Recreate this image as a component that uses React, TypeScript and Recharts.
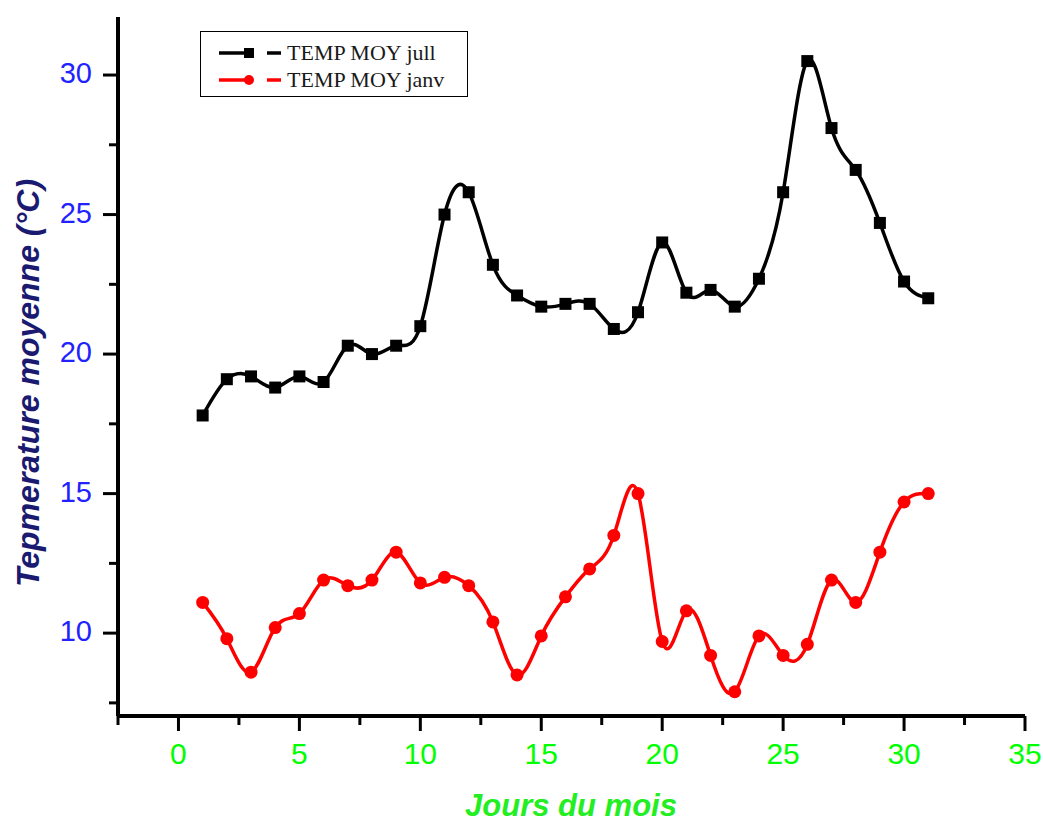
import { LineChart, Line, XAxis, YAxis } from 'recharts'

// day of month
const days = [1, 2, 3, 4, 5, 6, 7, 8, 9, 10, 11, 12, 13, 14, 15, 16, 17, 18, 19, 20, 21, 22, 23, 24, 25, 26, 27, 28, 29, 30, 31]

// TEMP MOY juil
const julyTemp = [17.8, 19.1, 19.2, 18.8, 19.2, 19.0, 20.3, 20.0, 20.3, 21.0, 25.0, 25.8, 23.2, 22.1, 21.7, 21.8, 21.8, 20.9, 21.5, 24.0, 22.2, 22.3, 21.7, 22.7, 25.8, 30.5, 28.1, 26.6, 24.7, 22.6, 22.0]

// TEMP MOY janv
const janTemp = [11.1, 9.8, 8.6, 10.2, 10.7, 11.9, 11.7, 11.9, 12.9, 11.8, 12.0, 11.7, 10.4, 8.5, 9.9, 11.3, 12.3, 13.5, 15.0, 9.7, 10.8, 9.2, 7.9, 9.9, 9.2, 9.6, 11.9, 11.1, 12.9, 14.7, 15.0]

const xTicks = [-2.5, 0, 2.5, 5, 7.5, 10, 12.5, 15, 17.5, 20, 22.5, 25, 27.5, 30, 32.5, 35]
const yTicks = [7.5, 10, 12.5, 15, 17.5, 20, 22.5, 25, 27.5, 30]

const legendItems = ['TEMP MOY jull', 'TEMP MOY janv']

const data = days.map((day, i) => ({ day, jul: julyTemp[i], jan: janTemp[i] }))

const sans = '"Liberation Sans", Arial, sans-serif'

function XTick({ x, y, payload }: any) {
  const major = payload.value % 5 === 0
  return (
    <g>
      <line x1={x} x2={x} y1={y} y2={y + (major ? 15 : 9)} stroke="#000" strokeWidth={3} />
      {major && (
        <text x={x} y={y + 37} textAnchor="middle" dominantBaseline="central" fill="#00ff00" fontSize={30} fontFamily={sans}>
          {payload.value}
        </text>
      )}
    </g>
  )
}

function YTick({ x, y, payload }: any) {
  const major = payload.value % 5 === 0
  return (
    <g>
      <line x1={x - (major ? 15 : 9)} x2={x} y1={y} y2={y} stroke="#000" strokeWidth={3} />
      {major && (
        <text x={x - 26} y={y - 2} textAnchor="end" dominantBaseline="central" fill="#2222ff" fontSize={29} fontFamily={sans}>
          {payload.value}
        </text>
      )}
    </g>
  )
}

function SquareDot({ cx, cy, index }: any) {
  return <rect key={index} x={cx - 6} y={cy - 6} width={12} height={12} fill="#000" />
}

function RoundDot({ cx, cy, index }: any) {
  return <circle key={index} cx={cx} cy={cy} r={6.5} fill="#ff0000" />
}

function ChartLegend() {
  return (
    <div
      style={{
        position: 'absolute',
        left: 200,
        top: 31,
        width: 266,
        height: 64,
        border: '1.5px solid #000',
        background: '#fff',
      }}
    >
      {legendItems.map((name, i) => {
        const color = i === 0 ? '#000' : '#ff0000'
        const cy = 21 + i * 27
        return (
          <div key={name}>
            <svg width={90} height={30} style={{ position: 'absolute', left: 0, top: cy - 15 }}>
              <line x1={18} x2={46} y1={15} y2={15} stroke={color} strokeWidth={3.5} />
              {i === 0 ? (
                <rect x={43} y={10} width={10} height={10} fill={color} />
              ) : (
                <circle cx={48} cy={15} r={5} fill={color} />
              )}
              <line x1={66} x2={80} y1={15} y2={15} stroke={color} strokeWidth={3.5} />
            </svg>
            <span
              style={{
                position: 'absolute',
                left: 86,
                top: cy - 13,
                fontFamily: '"Liberation Serif", "Times New Roman", serif',
                fontSize: 22,
                lineHeight: '26px',
                color: '#1a1a1a',
                whiteSpace: 'nowrap',
              }}
            >
              {name}
            </span>
          </div>
        )
      })}
    </div>
  )
}

export default function App() {
  return (
    <div style={{ position: 'absolute', left: 0, top: 0, width: 1043, height: 823, background: '#fff' }}>
      <LineChart width={1043} height={823} data={data} margin={{ top: 17, right: 18, left: 0, bottom: 0 }}>
        <XAxis
          dataKey="day"
          type="number"
          domain={[-2.5, 35]}
          ticks={xTicks}
          interval={0}
          allowDataOverflow
          height={107}
          tickSize={0}
          tickMargin={0}
          tickLine={false}
          tick={<XTick />}
          axisLine={{ stroke: '#000', strokeWidth: 4 }}
          label={{
            content: () => (
              <text x={571} y={805} textAnchor="middle" dominantBaseline="central" fill="#22ee22" fontSize={31} fontWeight="bold" fontStyle="italic" fontFamily={sans}>
                Jours du mois
              </text>
            ),
          }}
        />
        <YAxis
          type="number"
          domain={[7.03, 32.08]}
          ticks={yTicks}
          interval={0}
          allowDataOverflow
          width={118}
          tickSize={0}
          tickMargin={0}
          tickLine={false}
          tick={<YTick />}
          axisLine={{ stroke: '#000', strokeWidth: 4 }}
          label={{
            content: () => (
              <text
                x={28}
                y={383}
                transform="rotate(-90 28 383)"
                textAnchor="middle"
                dominantBaseline="central"
                fill="#1a1a70"
                fontSize={32}
                fontWeight="bold"
                fontStyle="italic"
                fontFamily={sans}
              >
                Tepmerature moyenne (°C)
              </text>
            ),
          }}
        />
        <Line
          type="natural"
          dataKey="jul"
          stroke="#000"
          strokeWidth={3.5}
          dot={<SquareDot />}
          activeDot={false}
          isAnimationActive={false}
        />
        <Line
          type="natural"
          dataKey="jan"
          stroke="#ff0000"
          strokeWidth={3.5}
          dot={<RoundDot />}
          activeDot={false}
          isAnimationActive={false}
        />
      </LineChart>
      <ChartLegend />
    </div>
  )
}
